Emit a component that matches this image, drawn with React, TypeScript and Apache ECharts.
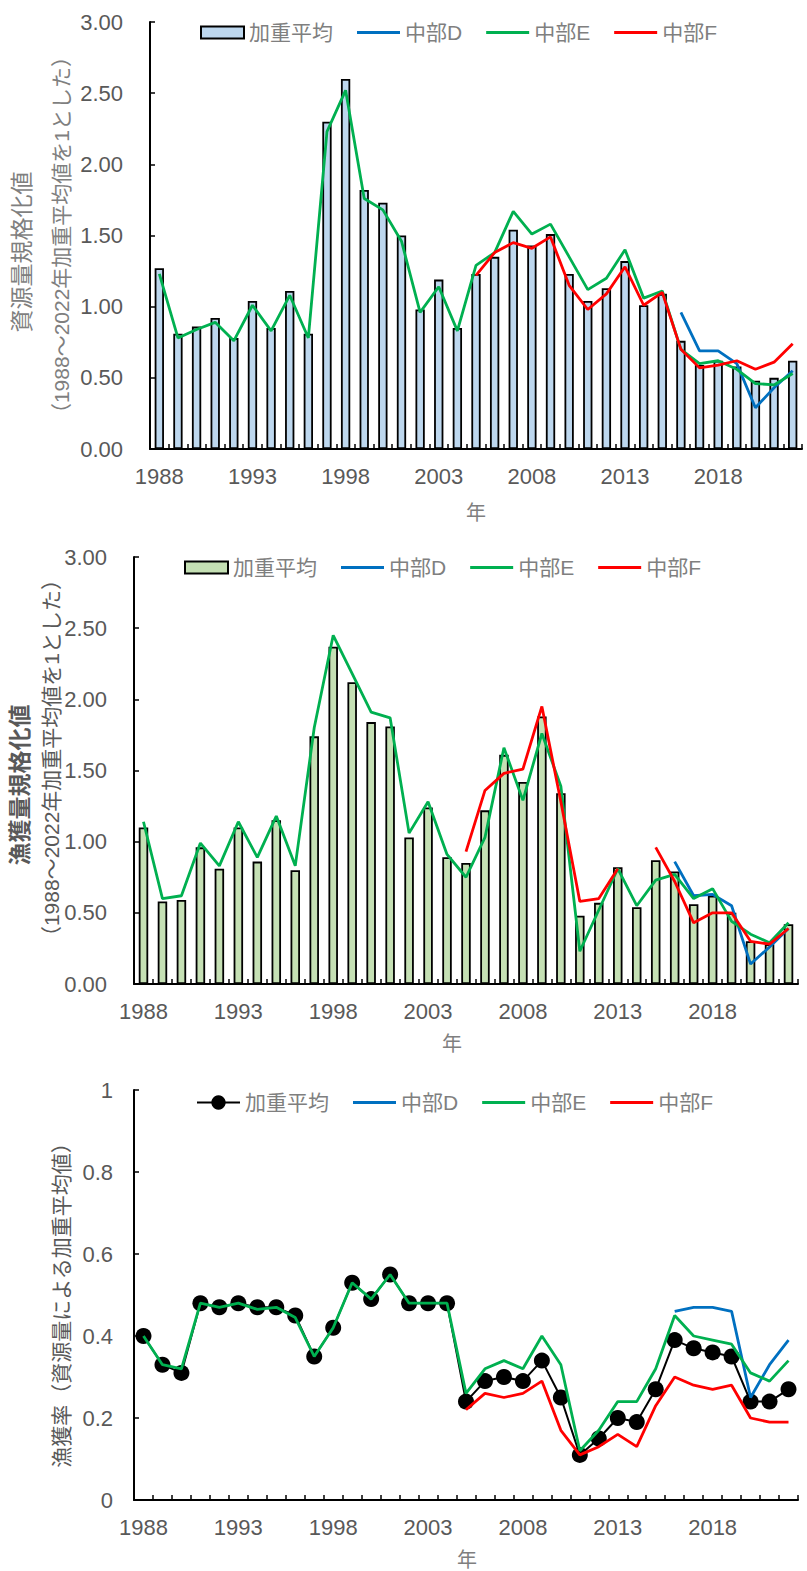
import { useEffect, useRef } from "react";
import * as echarts from "echarts";

// Years on the category axis
const years = [
  "1988", "1989", "1990", "1991", "1992", "1993", "1994", "1995", "1996", "1997",
  "1998", "1999", "2000", "2001", "2002", "2003", "2004", "2005", "2006", "2007",
  "2008", "2009", "2010", "2011", "2012", "2013", "2014", "2015", "2016", "2017",
  "2018", "2019", "2020", "2021", "2022",
];
const FIRST_YEAR = 1988;

// Normalised stock size (1988-2022 weighted mean = 1)
const biomassMean = [
  1.27, 0.81, 0.86, 0.92, 0.78, 1.04, 0.85, 1.11, 0.81, 2.30, 2.60, 1.82, 1.73, 1.50, 0.98, 1.19,
  0.85, 1.23, 1.35, 1.54, 1.43, 1.51, 1.23, 1.04, 1.13, 1.32, 1.01, 1.09, 0.76, 0.59, 0.62, 0.58, 0.48, 0.50, 0.62,
];
const biomassD = [0.96, 0.69, 0.69, 0.60, 0.29, 0.43, 0.55]; // from 2016
const biomassE = [
  1.23, 0.78, 0.84, 0.89, 0.76, 1.01, 0.83, 1.08, 0.78, 2.23, 2.52, 1.76, 1.68, 1.46, 0.96, 1.14,
  0.83, 1.29, 1.38, 1.67, 1.51, 1.58, 1.35, 1.12, 1.20, 1.40, 1.06, 1.11, 0.70, 0.60, 0.62, 0.56, 0.46, 0.45, 0.53,
];
const biomassF = [
  1.22, 1.38, 1.45, 1.41, 1.49, 1.15, 0.98, 1.09, 1.28, 1.01, 1.10, 0.70, 0.57, 0.59, 0.62, 0.56, 0.61, 0.74,
]; // from 2005

// Normalised catch (1988-2022 weighted mean = 1)
const catchMean = [
  1.10, 0.58, 0.59, 0.96, 0.81, 1.10, 0.86, 1.15, 0.80, 1.74, 2.37, 2.12, 1.84, 1.81, 1.03, 1.24,
  0.89, 0.85, 1.22, 1.61, 1.42, 1.88, 1.34, 0.48, 0.57, 0.82, 0.54, 0.87, 0.79, 0.56, 0.62, 0.50, 0.30, 0.28, 0.42,
];
const catchD = [0.86, 0.62, 0.63, 0.55, 0.14, 0.26, 0.39]; // from 2016
const catchE = [
  1.14, 0.60, 0.62, 0.99, 0.83, 1.14, 0.89, 1.18, 0.83, 1.80, 2.45, 2.18, 1.91, 1.87, 1.06, 1.28,
  0.91, 0.75, 1.03, 1.66, 1.29, 1.76, 1.39, 0.23, 0.52, 0.81, 0.55, 0.73, 0.77, 0.60, 0.67, 0.44, 0.35, 0.29, 0.43,
];
const catchF = [
  0.93, 1.36, 1.48, 1.51, 1.95, 1.28, 0.58, 0.60, 0.81, null, 0.96, 0.72, 0.43, 0.50, 0.50, 0.30, 0.28, 0.39,
]; // from 2005

// Exploitation rate (stock-weighted mean)
const rateMean = [
  0.40, 0.33, 0.31, 0.48, 0.47, 0.48, 0.47, 0.47, 0.45, 0.35, 0.42, 0.53, 0.49, 0.55, 0.48, 0.48,
  0.48, 0.24, 0.29, 0.30, 0.29, 0.34, 0.25, 0.11, 0.15, 0.20, 0.19, 0.27, 0.39, 0.37, 0.36, 0.35, 0.24, 0.24, 0.27,
];
const rateD = [0.46, 0.47, 0.47, 0.46, 0.25, 0.33, 0.39]; // from 2016
const rateE = [
  0.40, 0.33, 0.32, 0.48, 0.47, 0.48, 0.465, 0.47, 0.445, 0.35, 0.42, 0.53, 0.49, 0.55, 0.48, 0.48,
  0.48, 0.26, 0.32, 0.34, 0.32, 0.40, 0.33, 0.12, 0.17, 0.24, 0.24, 0.32, 0.45, 0.40, 0.39, 0.38, 0.31, 0.29, 0.34,
];
const rateF = [
  0.22, 0.26, 0.25, 0.26, 0.29, 0.17, 0.11, 0.13, 0.16, 0.13, 0.23, 0.30, 0.28, 0.27, 0.28, 0.20, 0.19, 0.19,
]; // from 2005

const legendNames = ["加重平均", "中部D", "中部E", "中部F"];
const yearAxisName = "年";

const FONT = "'Liberation Sans', 'Noto Sans CJK JP', sans-serif";
const TICK_GREY = "#595959";
const LIGHT_GREY = "#7f7f7f";
const BLUE = "#0070C0";
const GREEN = "#00B050";
const RED = "#FF0000";

// Legend key for the plain lines: a thin bar, no marker
const LINE_ICON = "path://M0,0h43v3h-43z";

// Place a series that begins later than 1988 on the shared year axis.
function startingAt(year: number, values: (number | null)[]) {
  const lead: null[] = [];
  for (let i = FIRST_YEAR; i < year; i++) lead.push(null);
  return [...lead, ...values];
}

function yearAxis() {
  return {
    type: "category",
    data: years,
    boundaryGap: true,
    axisLine: { show: true, lineStyle: { color: "#000", width: 2 } },
    axisTick: { show: true, inside: true, length: 5, interval: 0, lineStyle: { color: "#000", width: 1.5 } },
    axisLabel: { interval: 4, margin: 16, fontSize: 22, color: TICK_GREY, fontFamily: FONT },
    splitLine: { show: false },
  };
}

function valueAxis(max: number, interval: number, margin: number, formatter?: (v: number) => string) {
  return {
    type: "value",
    min: 0,
    max,
    interval,
    axisLine: { show: true, lineStyle: { color: "#000", width: 2 } },
    axisTick: { show: true, inside: true, length: 5, lineStyle: { color: "#000", width: 1.5 } },
    axisLabel: { margin, fontSize: 22, color: TICK_GREY, fontFamily: FONT, ...(formatter ? { formatter } : {}) },
    splitLine: { show: false },
  };
}

function line(name: string, data: (number | null)[], color: string) {
  return {
    type: "line",
    name,
    data,
    symbol: "none",
    connectNulls: false,
    lineStyle: { width: 2.8, color },
    itemStyle: { color },
    z: 3,
  };
}

function legend(left: number, top: number, itemHeight: number, first: any) {
  return {
    left,
    top,
    itemWidth: 43,
    itemHeight,
    itemGap: 24,
    textStyle: { fontSize: 21, color: LIGHT_GREY, fontFamily: FONT },
    data: [
      first,
      { name: legendNames[1], icon: LINE_ICON },
      { name: legendNames[2], icon: LINE_ICON },
      { name: legendNames[3], icon: LINE_ICON },
    ],
  };
}

function vText(text: string, x: number, y: number, color: string, fontWeight = "normal", fontSize = 21) {
  return {
    type: "text",
    x,
    y,
    rotation: Math.PI / 2,
    style: { text, fill: color, fontSize, fontWeight, fontFamily: FONT, align: "center", verticalAlign: "middle" },
  };
}

function hText(text: string, x: number, y: number) {
  return {
    type: "text",
    x,
    y,
    style: { text, fill: LIGHT_GREY, fontSize: 20, fontFamily: FONT, align: "center", verticalAlign: "middle" },
  };
}

const fixed2 = (v: number) => v.toFixed(2);

const biomassOption = {
  animation: false,
  textStyle: { fontFamily: FONT },
  grid: { left: 150, right: 5, top: 22, height: 427 },
  legend: legend(195, 17, 12, { name: legendNames[0], icon: "rect" }),
  xAxis: yearAxis(),
  yAxis: valueAxis(3, 0.5, 27, fixed2),
  series: [
    {
      type: "bar",
      name: legendNames[0],
      data: biomassMean,
      barWidth: "50%",
      itemStyle: { color: "#BDD7EE", borderColor: "#000", borderWidth: 1.8 },
    },
    line(legendNames[1], startingAt(2016, biomassD), BLUE),
    line(legendNames[2], biomassE, GREEN),
    line(legendNames[3], startingAt(2005, biomassF), RED),
  ],
  graphic: [
    vText("資源量規格化値", 22, 252, LIGHT_GREY, "normal", 23),
    vText("（1988～2022年加重平均値を1とした）", 61, 235, LIGHT_GREY),
    hText(yearAxisName, 476, 513),
  ],
};

const catchOption = {
  animation: false,
  textStyle: { fontFamily: FONT },
  grid: { left: 134, right: 9, top: 22, height: 427 },
  legend: legend(179, 17, 12, { name: legendNames[0], icon: "rect" }),
  xAxis: yearAxis(),
  yAxis: valueAxis(3, 0.5, 27, fixed2),
  series: [
    {
      type: "bar",
      name: legendNames[0],
      data: catchMean,
      barWidth: "50%",
      itemStyle: { color: "#C5E0B4", borderColor: "#000", borderWidth: 1.8 },
    },
    line(legendNames[1], startingAt(2016, catchD), BLUE),
    line(legendNames[2], catchE, GREEN),
    line(legendNames[3], startingAt(2005, catchF), RED),
  ],
  graphic: [
    vText("漁獲量規格化値", 20, 250, TICK_GREY, "bold", 23),
    vText("（1988～2022年加重平均値を1とした）", 51, 223, TICK_GREY),
    hText(yearAxisName, 452, 509),
  ],
};

const rateOption = {
  animation: false,
  textStyle: { fontFamily: FONT },
  grid: { left: 134, right: 9, top: 25, height: 410 },
  legend: legend(191, 22, 18, legendNames[0]),
  xAxis: yearAxis(),
  yAxis: valueAxis(1, 0.2, 21),
  series: [
    {
      type: "line",
      name: legendNames[0],
      data: rateMean,
      symbol: "circle",
      symbolSize: 16,
      showAllSymbol: true,
      lineStyle: { color: "#000", width: 2 },
      itemStyle: { color: "#000" },
      z: 2,
    },
    line(legendNames[1], startingAt(2016, rateD), BLUE),
    line(legendNames[2], rateE, GREEN),
    line(legendNames[3], startingAt(2005, rateF), RED),
  ],
  graphic: [
    vText("漁獲率（資源量による加重平均値）", 61, 235, TICK_GREY),
    hText(yearAxisName, 467, 495),
  ],
};

function Panel({ option, top, height }: { option: any; top: number; height: number }) {
  const ref = useRef<HTMLDivElement>(null);
  useEffect(() => {
    if (!ref.current) return;
    const chart = echarts.init(ref.current, undefined, { renderer: "svg" });
    chart.setOption(option);
    return () => chart.dispose();
  }, [option]);
  return (
    <div
      ref={ref}
      style={{ position: "absolute", left: 0, top, width: 807, height }}
    />
  );
}

export default function App() {
  // Panels are placed against the page corner, past the body margin.
  return (
    <div style={{ width: 807, height: 1571 }}>
      <Panel option={biomassOption} top={0} height={535} />
      <Panel option={catchOption} top={535} height={530} />
      <Panel option={rateOption} top={1065} height={506} />
    </div>
  );
}
